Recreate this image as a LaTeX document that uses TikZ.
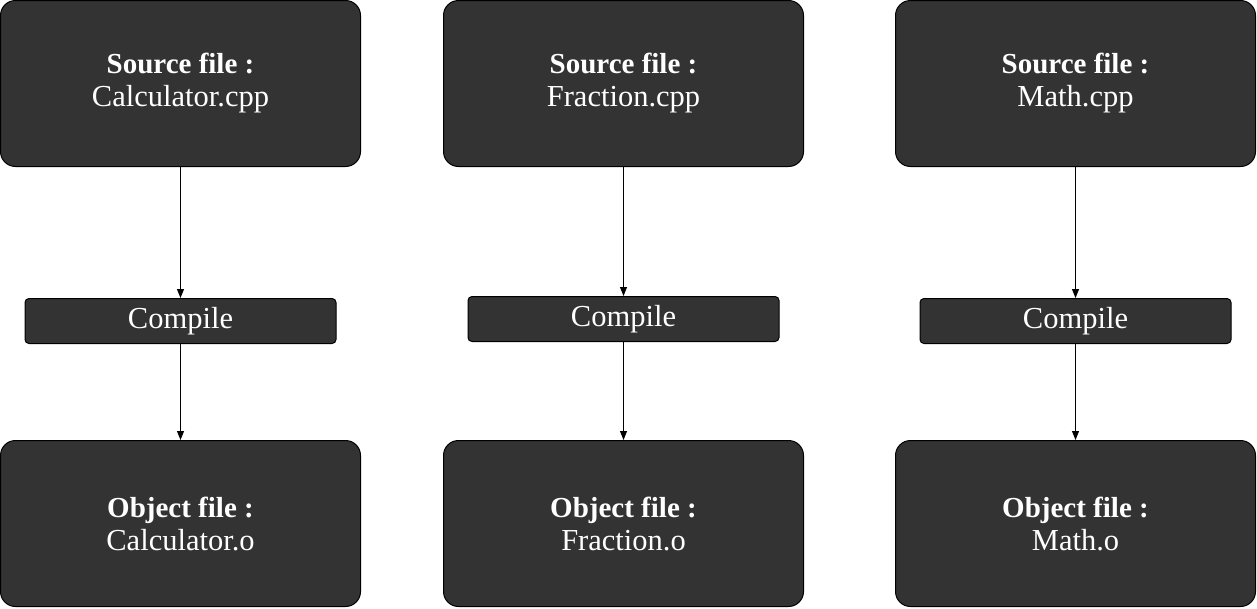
\documentclass[tikz,border=0pt]{standalone}
\usepackage{fontspec}
\setmainfont{Liberation Serif}
\usetikzlibrary{positioning, arrows.meta}
\definecolor{boxgray}{HTML}{333333}

\begin{document}
\begin{tikzpicture}[x=1pt, y=1pt]

	\tikzstyle{every node}=[font=\fontsize{30.5}{33}\selectfont, text=white, align=center]
	\tikzstyle{filebox} = [draw=black, line width=1pt, fill=boxgray, rounded corners=15pt, minimum width=360pt, minimum height=166pt, inner sep=0pt]
	\tikzstyle{stepbox} = [draw=black, line width=1pt, fill=boxgray, rounded corners=4pt, minimum width=311pt, minimum height=45pt, inner sep=0pt]
	\tikzstyle{arrow} = [line width=0.9pt, -{Triangle[length=9pt, width=7pt]}]

	\useasboundingbox (0,0) rectangle (1257,-608);

	\node[filebox] (srccalc) at (180.5,-83.5)  {{\fontsize{29}{33}\selectfont\bfseries Source file :} \\ Calculator.cpp};
	\node[filebox] (srcfrac) at (623.5,-83.5)  {{\fontsize{29}{33}\selectfont\bfseries Source file :} \\ Fraction.cpp};
	\node[filebox] (srcmath) at (1075.5,-83.5) {{\fontsize{29}{33}\selectfont\bfseries Source file :} \\ Math.cpp};

	\node[stepbox] (compcalc) at (180.5,-321)  {Compile};
	\node[stepbox] (compfrac) at (623.5,-319)  {Compile};
	\node[stepbox] (compmath) at (1075.5,-321) {Compile};

	\node[filebox] (objcalc) at (180.5,-523.5)  {{\fontsize{29}{33}\selectfont\bfseries Object file :} \\ Calculator.o};
	\node[filebox] (objfrac) at (623.5,-523.5)  {{\fontsize{29}{33}\selectfont\bfseries Object file :} \\ Fraction.o};
	\node[filebox] (objmath) at (1075.5,-523.5) {{\fontsize{29}{33}\selectfont\bfseries Object file :} \\ Math.o};

	\draw[arrow] (srccalc) -- (compcalc);
	\draw[arrow] (compcalc) -- (objcalc);
	\draw[arrow] (srcfrac) -- (compfrac);
	\draw[arrow] (compfrac) -- (objfrac);
	\draw[arrow] (srcmath) -- (compmath);
	\draw[arrow] (compmath) -- (objmath);

\end{tikzpicture}
\end{document}
